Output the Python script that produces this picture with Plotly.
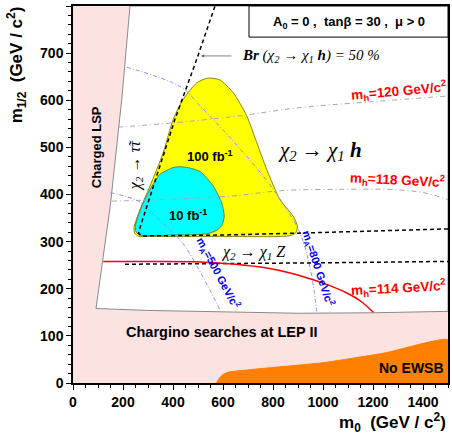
import plotly.graph_objects as go

# ---------------- data (m0, m1/2 in GeV/c^2) ----------------
allowed_m0 = [92, 120, 150, 195, 228, 1500, 1500, 1200, 900, 600, 300, 92]
allowed_m12 = [158, 262, 380, 602, 800, 800, 152, 149, 148, 151, 154, 158]

noewsb_m0 = [575, 585, 600, 620, 800, 1000, 1250, 1500, 1500, 575]
noewsb_m12 = [0, 10, 18, 23, 33, 43, 64, 92, 0, 0]

yellow_m0 = [262, 247, 244, 268, 308, 361, 401, 441, 495, 540, 588, 641, 695, 735, 775, 828, 881, 898, 890, 860, 600, 300, 262]
yellow_m12 = [311, 318, 330, 368, 418, 489, 560, 602, 637, 647, 643, 616, 567, 510, 453, 389, 354, 332, 318, 312, 311, 311, 311]

cyan_m0 = [266, 252, 249, 275, 308, 348, 400, 428, 461, 508, 561, 595, 605, 595, 575, 540, 508, 400, 266]
cyan_m12 = [314, 321, 333, 375, 411, 443, 457, 459, 457, 449, 418, 382, 354, 334, 324, 317, 315, 314, 314]

br_m0 = [1500, 1200, 900, 600, 300, 275, 262, 268, 323, 408, 495, 568]
br_m12 = [327, 322, 318, 314, 312, 312, 318, 330, 420, 560, 687, 800]

zline_m0 = [208, 600, 1000, 1500]
zline_m12 = [252, 253, 255, 258]

mh114_m0 = [121, 300, 508, 650, 775, 880, 961, 1030, 1095, 1150, 1201]
mh114_m12 = [258, 258, 257, 252, 244, 232, 219, 206, 191, 174, 150]

mh120_m0 = [180, 400, 668, 900, 1200, 1500]
mh120_m12 = [543, 552, 567, 584, 597, 609]

mh118_m0 = [155, 400, 640, 828, 1080, 1300, 1420, 1500]
mh118_m12 = [386, 390, 397, 408, 411, 410, 402, 389]

ma500_m0 = [150, 261, 315, 415, 448, 520, 588]
ma500_m12 = [404, 386, 361, 311, 290, 225, 155]

ma800_m0 = [215, 435, 508, 660, 801, 908, 950, 975]
ma800_m12 = [670, 627, 588, 502, 411, 318, 240, 152]

x_ticks = [0, 200, 400, 600, 800, 1000, 1200, 1400]
y_ticks = [0, 100, 200, 300, 400, 500, 600, 700, 800]

# ---------------- figure ----------------
SANS = "Liberation Sans"
SERIF = "Liberation Serif"

fig = go.Figure()

fig.add_trace(go.Scatter(x=allowed_m0, y=allowed_m12, fill="toself", fillcolor="white",
                         mode="lines", line=dict(color="#8a8a8a", width=1), hoverinfo="skip"))
fig.add_trace(go.Scatter(x=noewsb_m0, y=noewsb_m12, fill="toself", fillcolor="#ff8000",
                         mode="lines", line=dict(color="#ff8000", width=1, shape="spline", smoothing=0.4),
                         hoverinfo="skip"))
fig.add_trace(go.Scatter(x=yellow_m0, y=yellow_m12, fill="toself", fillcolor="#ffff00",
                         mode="lines", line=dict(color="#6b6b00", width=0.8, shape="spline", smoothing=0.6),
                         hoverinfo="skip"))
fig.add_trace(go.Scatter(x=cyan_m0, y=cyan_m12, fill="toself", fillcolor="#00ffff",
                         mode="lines", line=dict(color="#4d6b3a", width=0.8, shape="spline", smoothing=0.6),
                         hoverinfo="skip"))

for xs, ys in [(mh120_m0, mh120_m12), (mh118_m0, mh118_m12)]:
    fig.add_trace(go.Scatter(x=xs, y=ys, mode="lines", hoverinfo="skip",
                             line=dict(color="#a8a8a8", width=1, dash="5px,3px,1px,3px", shape="spline")))
for xs, ys in [(ma500_m0, ma500_m12), (ma800_m0, ma800_m12)]:
    fig.add_trace(go.Scatter(x=xs, y=ys, mode="lines", hoverinfo="skip",
                             line=dict(color="#8c8cff", width=1, dash="4px,2px,1px,2px", shape="spline")))

fig.add_trace(go.Scatter(x=br_m0, y=br_m12, mode="lines", hoverinfo="skip",
                         line=dict(color="black", width=1.5, dash="4px,3px")))
fig.add_trace(go.Scatter(x=zline_m0, y=zline_m12, mode="lines", hoverinfo="skip",
                         line=dict(color="black", width=1.5, dash="4px,3px")))
fig.add_trace(go.Scatter(x=mh114_m0, y=mh114_m12, mode="lines", hoverinfo="skip",
                         line=dict(color="#ff0000", width=1.5, shape="spline")))

ann = []
def t(x, y, text, size=12, color="black", family=SANS, angle=0, bold=False, **kw):
    if bold:
        text = "<b>" + text + "</b>"
    d = dict(x=x, y=y, xref="x", yref="y", text=text, showarrow=False, textangle=angle,
             font=dict(family=family, size=size, color=color))
    d.update(kw)
    ann.append(d)

t(1104, 764, "A<sub>0</sub> = 0 ,  tanβ = 30 ,  μ > 0", size=13, bold=True)
t(950, 694, "<i><b>Br</b> (χ<sub>2</sub> → χ<sub>1</sub> <b>h</b>) = 50 %</i>", size=15, family=SERIF)
ann.append(dict(x=512, y=694, ax=32, ay=0, xref="x", yref="y", text="", showarrow=True,
                arrowhead=2, arrowsize=0.8, arrowwidth=0.8, arrowcolor="#666666"))
t(1300, 619, "m<sub>h</sub>=120 GeV/c<sup>2</sup>", size=13.5, color="#ff0000", bold=True, angle=-5)
t(988, 492, "<i>χ<sub>2</sub> → χ<sub>1</sub> <b>h</b></i>", size=21, family=SERIF)
t(1298, 430, "m<sub>h</sub>=118 GeV/c<sup>2</sup>", size=13.5, color="#ff0000", bold=True, angle=3)
t(548, 481, "100 fb<sup>-1</sup>", size=13, bold=True)
t(461, 357, "10 fb<sup>-1</sup>", size=13, bold=True)
t(248, 460, "<i>χ<sub>2</sub> → τ̃τ</i>", size=16, family=SERIF, angle=-90)
t(95, 500, "Charged LSP", size=13, bold=True, angle=-90)
t(720, 277, "<i>χ<sub>2</sub> → χ<sub>1</sub> Z</i>", size=16, family=SERIF)
t(580, 234, "m<sub>A</sub>=500 GeV/c<sup>2</sup>", size=11, color="#0000ee", bold=True, angle=62)
t(978, 243, "m<sub>A</sub>=800 GeV/c<sup>2</sup>", size=11, color="#0000ee", bold=True, angle=72)
t(1300, 201, "m<sub>h</sub>=114 GeV/c<sup>2</sup>", size=13.5, color="#ff0000", bold=True, angle=-3)
t(595, 109, "Chargino searches at LEP II", size=14.5, bold=True)
t(1355, 31, "No EWSB", size=14, bold=True)

# axis titles
ann.append(dict(x=-0.15, y=1.005, xref="paper", yref="paper", xanchor="center", yanchor="top",
                text="<b>m<sub>1/2</sub>  (GeV / c<sup>2</sup>)</b>", showarrow=False, textangle=-90,
                font=dict(family=SANS, size=17, color="black")))
ann.append(dict(x=1.0, y=-0.106, xref="paper", yref="paper", xanchor="right", yanchor="middle",
                text="<b>m<sub>0</sub>  (GeV / c<sup>2</sup>)</b>", showarrow=False,
                font=dict(family=SANS, size=17, color="black")))

shapes = [dict(type="rect", xref="x", yref="y", x0=704, x1=1500, y0=734, y1=800,
               line=dict(color="black", width=1), fillcolor="white", layer="above")]

axis_common = dict(showgrid=False, zeroline=False, showline=True, linecolor="black", linewidth=1.5,
                   mirror=True, ticks="outside", ticklen=5, tickwidth=1, tickcolor="black",
                   tickfont=dict(family=SANS, size=14, color="black", weight="bold"))

fig.update_layout(
    width=452, height=436,
    margin=dict(l=73, r=2, t=6, b=53),
    paper_bgcolor="white", plot_bgcolor="#fde2e2",
    showlegend=False,
    xaxis=dict(range=[0, 1500], tickvals=x_ticks, ticktext=[str(v) for v in x_ticks],
               minor=dict(ticks="outside", ticklen=3, dtick=50, tickcolor="black"), **axis_common),
    yaxis=dict(range=[0, 800], tickvals=y_ticks, ticktext=[str(v) for v in y_ticks],
               minor=dict(ticks="outside", ticklen=3, dtick=20, tickcolor="black"), **axis_common),
    annotations=ann, shapes=shapes,
)

fig.write_html("out.html", config={"displayModeBar": False},
               post_script="document.body.style.margin='0px';document.body.style.overflow='hidden';")
